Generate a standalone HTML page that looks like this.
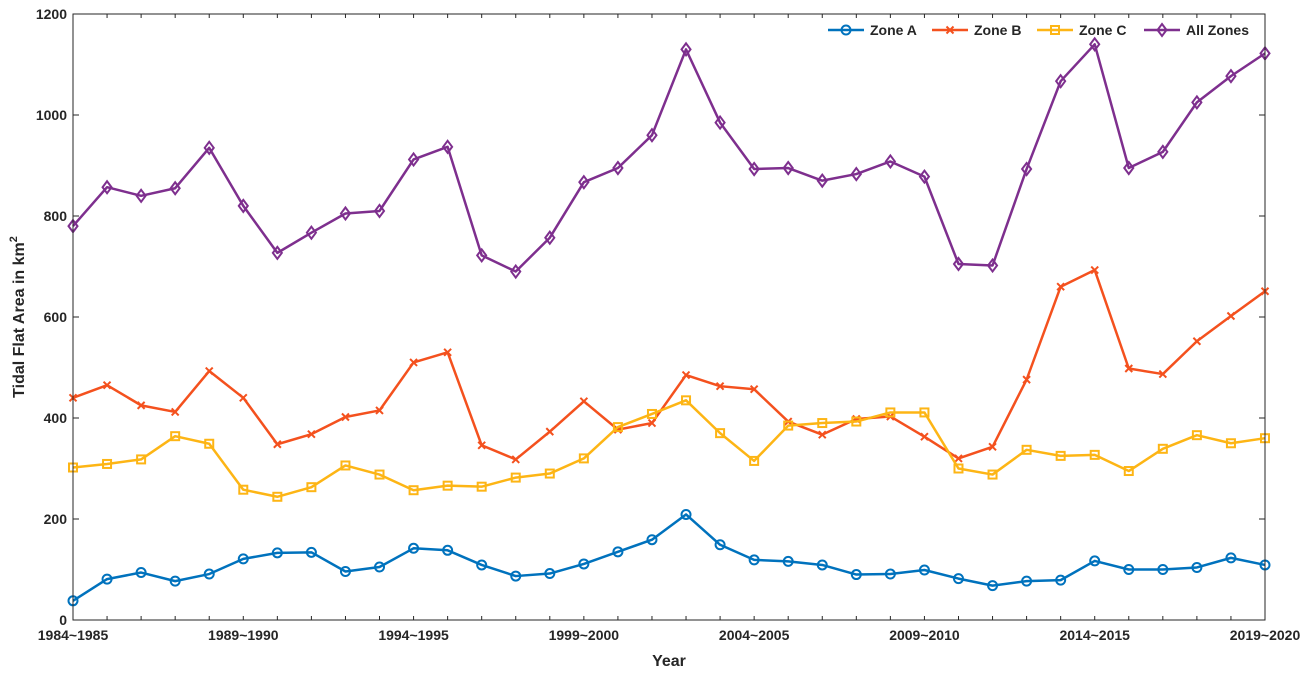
<!DOCTYPE html>
<html><head><meta charset="utf-8"><style>
html,body{margin:0;padding:0;background:#fff;}
svg text{font-family:"Liberation Sans",Arial,sans-serif;font-weight:bold;fill:#262626;}
</style></head><body>
<svg id="chart" width="1316" height="674" viewBox="0 0 1316 674" xmlns="http://www.w3.org/2000/svg">
<g id="grid"></g><g id="series"></g><g id="axes"></g><g id="legend"></g>
</svg>
<script>
const categories=["1984~1985","1985~1986","1986~1987","1987~1988","1988~1989","1989~1990","1990~1991","1991~1992","1992~1993","1993~1994","1994~1995","1995~1996","1996~1997","1997~1998","1998~1999","1999~2000","2000~2001","2001~2002","2002~2003","2003~2004","2004~2005","2005~2006","2006~2007","2007~2008","2008~2009","2009~2010","2010~2011","2011~2012","2012~2013","2013~2014","2014~2015","2015~2016","2016~2017","2017~2018","2018~2019","2019~2020"];
const zoneA=[38,81,94,77,91,121,133,134,96,105,142,138,109,87,92,111,135,159,209,149,119,116,109,90,91,99,82,68,77,79,117,100,100,104,123,109];
const zoneB=[440,465,425,412,493,440,348,368,402,415,510,530,346,318,373,433,377,390,485,463,457,393,367,398,403,363,320,343,476,660,693,498,487,552,602,651];
const zoneC=[302,309,318,364,349,258,244,263,306,288,257,266,264,282,290,320,382,408,435,370,315,385,390,393,411,411,300,288,337,325,327,295,339,366,350,360];
const allZones=[780,857,840,855,935,820,727,767,805,810,912,937,722,690,757,867,895,960,1130,985,893,895,870,883,908,878,705,702,893,1067,1140,895,927,1025,1077,1122];
const yTicks=[0,200,400,600,800,1000,1200];
const xTickLabels=["1984~1985","1989~1990","1994~1995","1999~2000","2004~2005","2009~2010","2014~2015","2019~2020"];

const L=73,R=1265,T=14,B=620,NS="http://www.w3.org/2000/svg";
const xs=i=>L+(R-L)*i/(categories.length-1);
const ys=v=>B-(B-T)*v/1200;
function mk(tag,attrs,parent){const e=document.createElementNS(NS,tag);for(const k in attrs)e.setAttribute(k,attrs[k]);parent.appendChild(e);return e;}
const axes=document.getElementById('axes'),ser=document.getElementById('series'),leg=document.getElementById('legend');

const box=mk('rect',{x:L,y:T,width:R-L,height:B-T,fill:'none',stroke:'#262626','stroke-width':1},axes);


yTicks.forEach(v=>{
  const y=ys(v);
  mk('line',{x1:L,x2:L+6,y1:y,y2:y,stroke:'#262626'},axes);
  mk('line',{x1:R,x2:R-6,y1:y,y2:y,stroke:'#262626'},axes);
  const t=mk('text',{x:L-6,y:y+5,'text-anchor':'end','font-size':14},axes);t.textContent=v;
  
  
});
categories.forEach((c,i)=>{
  const x=xs(i);
  mk('line',{x1:x,x2:x,y1:B,y2:B-4,stroke:'#262626'},axes);
  mk('line',{x1:x,x2:x,y1:T,y2:T+4,stroke:'#262626'},axes);
  if(xTickLabels.includes(c)){
    const t=mk('text',{x:x,y:B+20,'text-anchor':'middle','font-size':14},axes);t.textContent=c;
    
    
  }
});
const xt=mk('text',{x:(L+R)/2,y:666,'text-anchor':'middle','font-size':16},axes);xt.textContent='Year';


const yt=mk('text',{transform:'translate(24,317) rotate(-90)','text-anchor':'middle','font-size':16},axes);
yt.innerHTML='Tidal Flat Area in km<tspan dy="-7" font-size="11">2</tspan>';



function marker(kind,x,y,color,g){
  const s=4.5;
  if(kind==='circle')return mk('circle',{cx:x,cy:y,r:s,fill:'none',stroke:color,'stroke-width':2},g);
  if(kind==='x')return mk('path',{d:`M${x-3.5} ${y-3.5}L${x+3.5} ${y+3.5}M${x-3.5} ${y+3.5}L${x+3.5} ${y-3.5}`,stroke:color,'stroke-width':2},g);
  if(kind==='square')return mk('rect',{x:x-4,y:y-4,width:8,height:8,fill:'none',stroke:color,'stroke-width':2},g);
  return mk('path',{d:`M${x} ${y-6}L${x+4.5} ${y}L${x} ${y+6}L${x-4.5} ${y}Z`,fill:'none',stroke:color,'stroke-width':2},g);
}
const seriesDefs=[
 {name:'Zone A',data:zoneA,color:'#0072BD',m:'circle',key:'zone-a'},
 {name:'Zone B',data:zoneB,color:'#F4511E',m:'x',key:'zone-b'},
 {name:'Zone C',data:zoneC,color:'#FDB515',m:'square',key:'zone-c'},
 {name:'All Zones',data:allZones,color:'#7E2F8E',m:'diamond',key:'all-zones'}];
const legX=[828,932,1037,1144];
seriesDefs.forEach((s,k)=>{
  const g=mk('g',{},ser);
  
  
  const p=mk('polyline',{points:s.data.map((v,i)=>xs(i)+','+ys(v)).join(' '),fill:'none',stroke:s.color,'stroke-width':2.5,'stroke-linejoin':'round'},g);
  
  
  s.data.forEach((v,i)=>{const m=marker(s.m,xs(i),ys(v),s.color,g);
    
    });
  const lg=mk('g',{},leg);
  
  
  const lx=legX[k];
  mk('line',{x1:lx,x2:lx+36,y1:30,y2:30,stroke:s.color,'stroke-width':2.5},lg);
  marker(s.m,lx+18,30,s.color,lg);
  const t=mk('text',{x:lx+42,y:35,'font-size':14},lg);t.textContent=s.name;
});
</script>
</body></html>
